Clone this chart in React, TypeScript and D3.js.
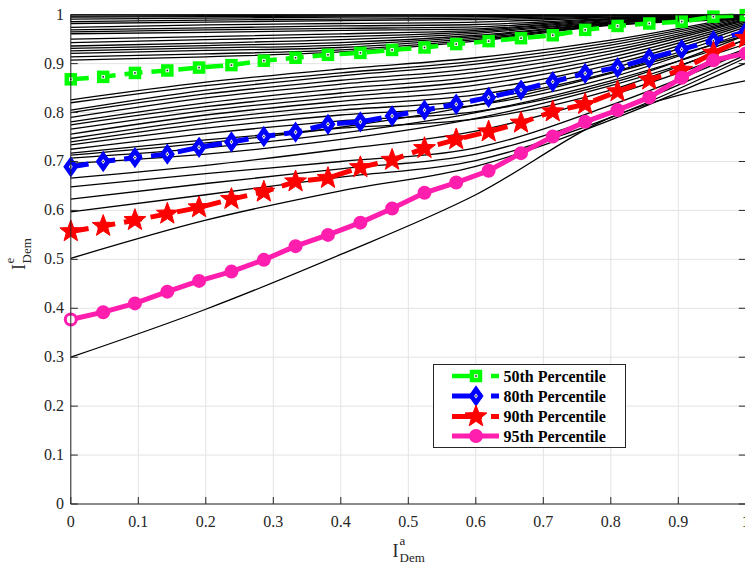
import React from "react";
import * as d3 from "d3";

const W = 745;
const H = 570;

// axis ticks
const tickValues = [0, 0.1, 0.2, 0.3, 0.4, 0.5, 0.6, 0.7, 0.8, 0.9, 1];
const tickLabels = ["0", "0.1", "0.2", "0.3", "0.4", "0.5", "0.6", "0.7", "0.8", "0.9", "1"];

// black scenario curves, sampled at these x values
const blackX = [0, 0.2, 0.4, 0.6, 0.8, 1.0];
const topLines = [
  [1.0, 1.0, 1.0, 1.0, 1.0, 1.0],
  [0.997, 0.998, 0.999, 1.0, 1.0, 1.0],
  [0.995, 0.996, 0.997, 0.998, 0.999, 1.0],
  [0.991, 0.993, 0.995, 0.996, 0.998, 1.0],
  [0.986, 0.989, 0.991, 0.993, 0.997, 1.0],
  [0.982, 0.985, 0.988, 0.99, 0.995, 1.0],
  [0.974, 0.979, 0.982, 0.985, 0.994, 0.999],
  [0.969, 0.973, 0.977, 0.98, 0.992, 0.999],
  [0.965, 0.969, 0.972, 0.975, 0.991, 0.998],
  [0.961, 0.964, 0.968, 0.971, 0.99, 0.998],
  [0.95, 0.955, 0.961, 0.968, 0.988, 0.997],
  [0.943, 0.949, 0.955, 0.965, 0.986, 0.997],
  [0.936, 0.942, 0.949, 0.962, 0.985, 0.996],
  [0.931, 0.937, 0.943, 0.958, 0.983, 0.995],
  [0.926, 0.932, 0.938, 0.955, 0.982, 0.994],
  [0.921, 0.927, 0.933, 0.952, 0.98, 0.993],
  [0.914, 0.92, 0.928, 0.949, 0.979, 0.992],
  [0.907, 0.914, 0.924, 0.946, 0.978, 0.991],
];
const midLines = [
  [0.826, 0.862, 0.889, 0.912, 0.948, 0.998],
  [0.82, 0.855, 0.881, 0.905, 0.943, 0.996],
  [0.805, 0.846, 0.875, 0.899, 0.938, 0.994],
  [0.8, 0.838, 0.866, 0.89, 0.932, 0.992],
  [0.79, 0.83, 0.858, 0.882, 0.926, 0.99],
  [0.781, 0.82, 0.849, 0.873, 0.92, 0.988],
  [0.775, 0.812, 0.84, 0.865, 0.913, 0.985],
  [0.766, 0.804, 0.832, 0.856, 0.906, 0.982],
  [0.756, 0.795, 0.823, 0.846, 0.898, 0.979],
  [0.747, 0.786, 0.814, 0.836, 0.89, 0.975],
  [0.74, 0.778, 0.805, 0.826, 0.882, 0.969],
  [0.734, 0.768, 0.795, 0.815, 0.872, 0.964],
  [0.725, 0.757, 0.783, 0.802, 0.86, 0.958],
  [0.717, 0.744, 0.768, 0.787, 0.846, 0.95],
];
const lowLines = [
  [0.713, 0.738, 0.77, 0.815, 0.88, 0.958],
  [0.707, 0.728, 0.758, 0.8, 0.865, 0.948],
  [0.696, 0.715, 0.745, 0.788, 0.855, 0.94],
  [0.666, 0.692, 0.725, 0.762, 0.835, 0.93],
  [0.648, 0.675, 0.7, 0.728, 0.815, 0.925],
  [0.623, 0.655, 0.685, 0.715, 0.8, 0.918],
  [0.597, 0.632, 0.668, 0.702, 0.79, 0.912],
  [0.502, 0.58, 0.64, 0.69, 0.785, 0.901],
  [0.3, 0.398, 0.51, 0.632, 0.79, 0.865],
];

// percentile curves
const pctX = [0, 0.048, 0.095, 0.143, 0.19, 0.238, 0.286, 0.333, 0.381, 0.429, 0.476, 0.524, 0.571, 0.619, 0.667, 0.714, 0.762, 0.81, 0.857, 0.905, 0.952, 1.0];
const p50 = [0.868, 0.873, 0.881, 0.886, 0.892, 0.897, 0.906, 0.912, 0.918, 0.922, 0.928, 0.933, 0.94, 0.946, 0.952, 0.958, 0.969, 0.977, 0.982, 0.986, 0.996, 0.999];
const p80 = [0.689, 0.7, 0.708, 0.715, 0.729, 0.74, 0.751, 0.76, 0.776, 0.781, 0.793, 0.805, 0.817, 0.831, 0.846, 0.863, 0.88, 0.892, 0.911, 0.929, 0.947, 0.965];
const p90 = [0.557, 0.568, 0.58, 0.593, 0.606, 0.623, 0.638, 0.659, 0.666, 0.688, 0.703, 0.727, 0.745, 0.761, 0.779, 0.802, 0.817, 0.843, 0.867, 0.887, 0.922, 0.952];
const p95 = [0.377, 0.392, 0.41, 0.434, 0.456, 0.475, 0.499, 0.527, 0.55, 0.575, 0.604, 0.636, 0.657, 0.681, 0.717, 0.751, 0.781, 0.805, 0.831, 0.871, 0.907, 0.921];

const legendNames = ["50th Percentile", "80th Percentile", "90th Percentile", "95th Percentile"];

const GREEN = "#00ff00";
const BLUE = "#0000ff";
const RED = "#ff0000";
const MAGENTA = "#ff1ead";
const AXIS = "#262626";
const FONT = "Liberation Serif, Times New Roman, DejaVu Serif, serif";

function starPath(R: number, r: number) {
  const pts: string[] = [];
  for (let k = 0; k < 10; k++) {
    const rad = k % 2 === 0 ? R : r;
    const a = -Math.PI / 2 + (k * Math.PI) / 5;
    pts.push(`${(rad * Math.cos(a)).toFixed(2)},${(rad * Math.sin(a)).toFixed(2)}`);
  }
  return "M" + pts.join("L") + "Z";
}
const STAR = starPath(11.5, 4.8);
const DIAMOND = "M0,-8.5L6,0L0,8.5L-6,0Z";
const DIAMOND_IN = "M0,-2.6L1.9,0L0,2.6L-1.9,0Z";

function Marker({ kind, cx, cy, first }: { kind: number; cx: number; cy: number; first: boolean }) {
  if (kind === 0) {
    return (
      <g transform={`translate(${cx},${cy})`}>
        <rect x={-5} y={-5} width={10} height={10} fill={GREEN} stroke={GREEN} strokeWidth={2.5} />
        <rect x={-1.8} y={-1.8} width={3.6} height={3.6} fill="#fff" />
        <rect x={-0.8} y={-0.8} width={1.6} height={1.6} fill="#222" />
      </g>
    );
  }
  if (kind === 1) {
    return (
      <g transform={`translate(${cx},${cy})`}>
        <path d={DIAMOND} fill={BLUE} stroke={BLUE} strokeWidth={2.5} strokeLinejoin="miter" />
        <path d={DIAMOND_IN} fill="#fff" />
        <rect x={-0.7} y={-0.7} width={1.4} height={1.4} fill="#222" />
      </g>
    );
  }
  if (kind === 2) {
    return <path transform={`translate(${cx},${cy})`} d={STAR} fill={RED} stroke={RED} strokeWidth={1} />;
  }
  return (
    <g transform={`translate(${cx},${cy})`}>
      <circle r={5.5} fill={first ? "#fff" : MAGENTA} stroke={MAGENTA} strokeWidth={3} />
    </g>
  );
}

export default function App() {
  const x = d3.scaleLinear().domain([0, 1]).range([70.8, 745.8]);
  const y = d3.scaleLinear().domain([0, 1]).range([504, 14.7]);
  const [x0, x1] = x.range();
  const [y0, y1] = y.range();

  const blackLine = d3
    .line<number>()
    .x((_, i) => x(blackX[i]))
    .y((v) => y(v))
    .curve(d3.curveMonotoneX);
  const pctLine = d3
    .line<number>()
    .x((_, i) => x(pctX[i]))
    .y((v) => y(v));

  const allBlack = [...topLines, ...midLines, ...lowLines];
  const series = [
    { vals: p50, color: GREEN, dash: "18 9", width: 4.5 },
    { vals: p80, color: BLUE, dash: "18 9", width: 5 },
    { vals: p90, color: RED, dash: "18 9", width: 5 },
    { vals: p95, color: MAGENTA, dash: undefined as string | undefined, width: 5 },
  ];

  const legendY = [376, 396, 416.5, 436];
  const fontStyle = { fontFamily: FONT };

  return (
    <svg
      width={W}
      height={H}
      viewBox={`0 0 ${W} ${H}`}
      style={{ position: "absolute", left: 0, top: 0, background: "#fff", fontFamily: FONT }}
    >
      <rect x={0} y={0} width={W} height={H} fill="#fff" />
      {/* grid */}
      <g stroke="#e3e3e3" strokeWidth={1}>
        {tickValues.map((t) => (
          <line key={"gx" + t} x1={x(t)} x2={x(t)} y1={y0} y2={y1} />
        ))}
        {tickValues.map((t) => (
          <line key={"gy" + t} x1={x0} x2={x1} y1={y(t)} y2={y(t)} />
        ))}
      </g>
      {/* black curves */}
      <g fill="none" stroke="#000" strokeWidth={1.3}>
        {allBlack.map((vals, i) => (
          <path key={"b" + i} d={blackLine(vals) || ""} />
        ))}
      </g>
      {/* percentile curves */}
      {series.map((s, si) => (
        <g key={"s" + si}>
          <path
            d={pctLine(s.vals) || ""}
            fill="none"
            stroke={s.color}
            strokeWidth={s.width}
            strokeDasharray={s.dash}
          />
          {s.vals.map((v, i) => (
            <Marker key={i} kind={si} cx={x(pctX[i])} cy={y(v)} first={i === 0} />
          ))}
        </g>
      ))}
      {/* axes */}
      <g stroke={AXIS} strokeWidth={1} fill="none">
        <line x1={x0} x2={x0} y1={y0} y2={y1} />
        <line x1={x0} x2={x1} y1={y0} y2={y0} />
        <line x1={x1} x2={x1} y1={y0} y2={y1} />
        <line x1={x0} x2={x1} y1={y1} y2={y1} />
        {tickValues.map((t) => (
          <g key={"t" + t}>
            <line x1={x(t)} x2={x(t)} y1={y0} y2={y0 - 7} />
            <line x1={x(t)} x2={x(t)} y1={y1} y2={y1 + 7} />
            <line x1={x0} x2={x0 + 7} y1={y(t)} y2={y(t)} />
            <line x1={x1} x2={x1 - 7} y1={y(t)} y2={y(t)} />
          </g>
        ))}
      </g>
      {/* tick labels */}
      <g fill={AXIS} fontSize={16} style={fontStyle}>
        {tickValues.map((t, i) => (
          <text key={"xl" + t} x={x(t)} y={526.5} textAnchor="middle" style={fontStyle}>
            {tickLabels[i]}
          </text>
        ))}
        {tickValues.map((t, i) => (
          <text key={"yl" + t} x={64} y={y(t) + 5} textAnchor="end" style={fontStyle}>
            {tickLabels[i]}
          </text>
        ))}
      </g>
      {/* x label */}
      <g fill={AXIS} style={fontStyle}>
        <text x={392.5} y={557} fontSize={18} style={fontStyle}>I</text>
        <text x={399.5} y={545} fontSize={13} style={fontStyle}>a</text>
        <text x={399.5} y={562} fontSize={13} style={fontStyle}>Dem</text>
      </g>
      {/* y label */}
      <g fill={AXIS} transform="rotate(-90)" style={fontStyle}>
        <text x={-270} y={25} fontSize={18} style={fontStyle}>I</text>
        <text x={-263.5} y={14} fontSize={13} style={fontStyle}>e</text>
        <text x={-263.5} y={31} fontSize={13} style={fontStyle}>Dem</text>
      </g>
      {/* legend */}
      <g>
        <rect x={433.5} y={364.5} width={192} height={83} fill="#fff" stroke={AXIS} strokeWidth={1} />
        {series.map((s, si) => {
          const ly = legendY[si];
          return (
            <g key={"lg" + si}>
              {s.dash ? (
                <>
                  <line x1={452} x2={482} y1={ly} y2={ly} stroke={s.color} strokeWidth={s.width} />
                  <line x1={491} x2={499} y1={ly} y2={ly} stroke={s.color} strokeWidth={s.width} />
                </>
              ) : (
                <line x1={452} x2={499} y1={ly} y2={ly} stroke={s.color} strokeWidth={s.width} />
              )}
              <Marker kind={si} cx={476} cy={ly} first={false} />
              <text x={503.5} y={ly + 5.5} fontSize={16} fontWeight="bold" fill="#000" style={fontStyle}>
                {legendNames[si]}
              </text>
            </g>
          );
        })}
      </g>
    </svg>
  );
}
